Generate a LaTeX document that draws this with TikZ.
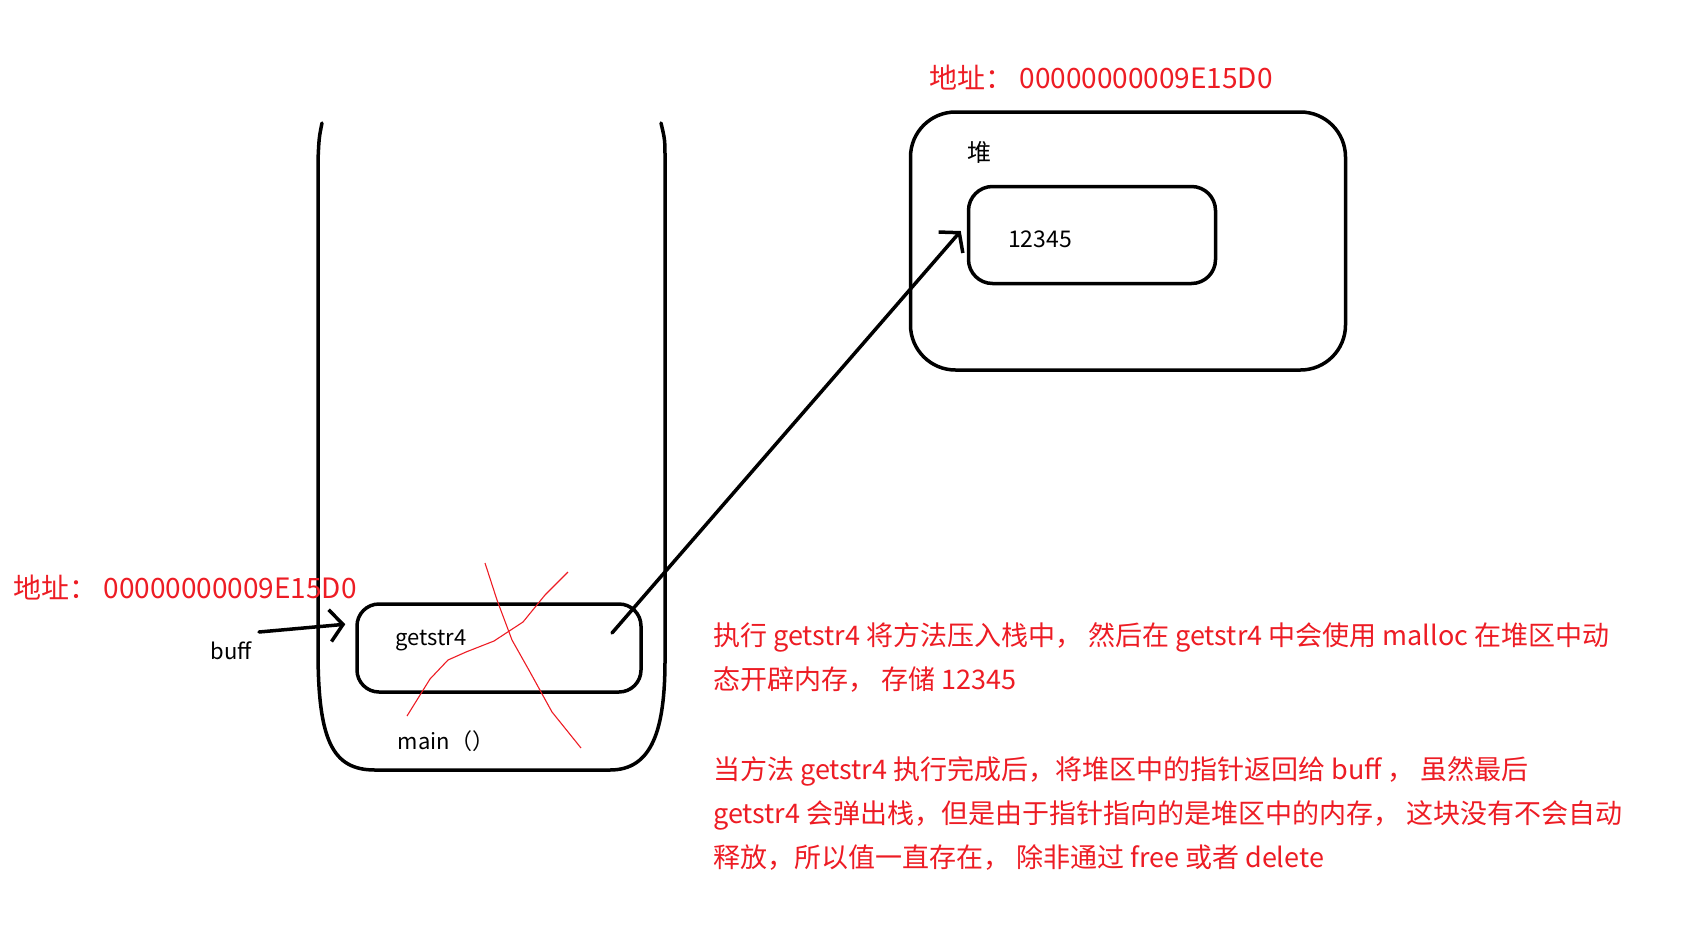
\documentclass[tikz,border=0pt]{standalone}
\usepackage{fontspec}
\setmainfont{Noto Sans CJK SC}
\usepackage{xcolor}
\usetikzlibrary{arrows.meta}
\definecolor{paintred}{RGB}{237,28,36}

\begin{document}
\begin{tikzpicture}[x=1pt,y=-1pt,
        wall/.style={line width=3.5pt, line cap=round, line join=round},
        box/.style={draw, wall, rounded corners=#1, inner sep=0pt},
        box/.default=22pt,
        ptr/.style={wall, -{Straight Barb[length=13pt,width=32pt]}},
        label/.style={inner sep=0pt, font=\fontsize{22}{26}\selectfont},
        addr/.style={inner sep=0pt, anchor=west, text=paintred, font=\fontsize{28}{32}\selectfont},
        note/.style={inner sep=0pt, anchor=north west, align=left, text=paintred,
                font=\fontsize{27}{44}\selectfont},
        cross/.style={draw=paintred, line width=1.1pt}
    ]
    \useasboundingbox (0,0) rectangle (1683,937);

    % stack
    \draw[wall] (322,123) .. controls (319,138) .. (318,160) -- (318,650)
        .. controls (318,740) and (332,770) .. (375,770) -- (610,770)
        .. controls (652,770) and (665,730) .. (665,660) -- (665,160)
        .. controls (665,140) .. (661,123);
    \node[box, minimum width=284pt, minimum height=88pt] (getstr) at (499,648) {};
    \node[label] (getstrtxt) at (431,640) {getstr4};
    \node[label] (main) at (446,741) {main（）};
    \node[label] (buff) at (231,651) {buff};

    % heap
    \node[box=45pt, minimum width=435pt, minimum height=258pt] (heap) at (1128,241) {};
    \node[box=24pt, minimum width=247pt, minimum height=97pt] (val) at (1092,235) {};
    \node[label, font=\fontsize{24}{28}\selectfont] (heaptxt) at (979,152) {堆};
    \node[label, font=\fontsize{23}{28}\selectfont] (valtxt) at (1040,239) {12345};

    \node[addr] (addrheap) at (929,78) {地址：\ 00000000009E15D0};
    \node[addr] (addrbuff) at (13,588) {地址：\ 00000000009E15D0};

    \coordinate (ptrstart) at (612,633);
    \coordinate (buffstart) at (259,632);
    \draw[ptr] (ptrstart) -- ([xshift=-6pt,yshift=4pt]val.west);
    \draw[ptr] (buffstart) -- ([xshift=-10pt,yshift=-22pt]getstr.north west);

    % getstr4 crossed out
    \draw[cross] (485,563) -- (497,600) -- (512,640) -- (530,672) -- (552,712) -- (581,748);
    \draw[cross] (568,572) -- (545,595) -- (523,622) -- (494,641) -- (466,652)
        -- (448,660) -- (430,679) -- (407,716);

    \node[note] (note1) at (713,622) {执行 getstr4 将方法压入栈中，\ 然后在 getstr4 中会使用 malloc 在堆区中动\\
        态开辟内存，\ 存储 12345};
    \node[note] (note2) at (713,756) {当方法 getstr4 执行完成后，将堆区中的指针返回给 buff ，\ 虽然最后\\
        getstr4 会弹出栈，但是由于指针指向的是堆区中的内存，\ 这块没有不会自动\\
        释放，所以值一直存在，\ 除非通过 free 或者 delete};
\end{tikzpicture}
\end{document}
